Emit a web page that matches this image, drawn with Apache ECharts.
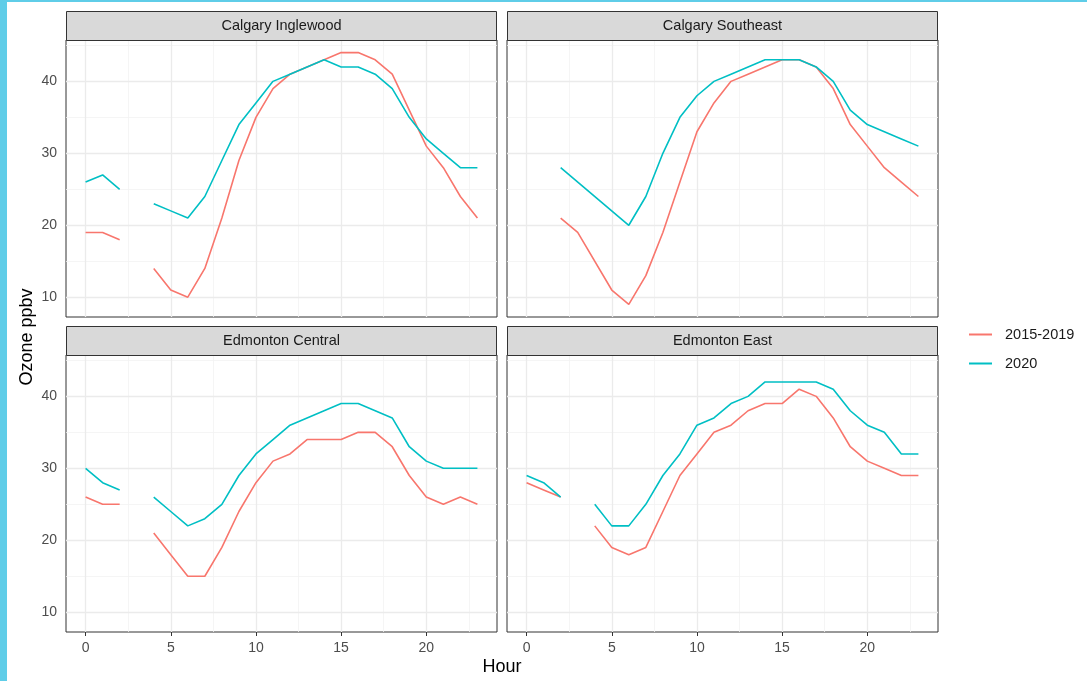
<!DOCTYPE html>
<html>
<head>
<meta charset="utf-8">
<script src="https://cdn.jsdelivr.net/npm/echarts@6/dist/echarts.min.js"></script>
<style>
html,body{margin:0;padding:0;background:#fff;}
#chart{width:1087px;height:681px;}
</style>
</head>
<body>
<div id="chart"></div>
<script>
// ---------- DATA ----------
const panelTitles = ['Calgary Inglewood', 'Calgary Southeast', 'Edmonton Central', 'Edmonton East'];
const seriesNames = ['2015-2019', '2020'];
const xTicks = [0, 5, 10, 15, 20];
const yTicks = [10, 20, 30, 40];
const allHours = [0,1,2,3,4,5,6,7,8,9,10,11,12,13,14,15,16,17,18,19,20,21,22,23];

// Calgary Inglewood
const inglewoodHours = allHours;
const inglewood2015 = [19,19,18,null,14,11,10,14,21,29,35,39,41,42,43,44,44,43,41,36,31,28,24,21];
const inglewood2020 = [26,27,25,null,23,22,21,24,29,34,37,40,41,42,43,42,42,41,39,35,32,30,28,28];

// Calgary Southeast
const southeastHours2015 = [2,3,5,6,7,8,9,10,11,12,13,14,15,16,17,18,19,20,21,22,23];
const southeast2015 = [21,19,11,9,13,19,26,33,37,40,41,42,43,43,42,39,34,31,28,26,24];
const southeastHours2020 = [2,6,7,8,9,10,11,12,13,14,15,16,17,18,19,20,21,22,23];
const southeast2020 = [28,20,24,30,35,38,40,41,42,43,43,43,42,40,36,34,33,32,31];

// Edmonton Central
const centralHours = allHours;
const central2015 = [26,25,25,null,21,18,15,15,19,24,28,31,32,34,34,34,35,35,33,29,26,25,26,25];
const central2020 = [30,28,27,null,26,24,22,23,25,29,32,34,36,37,38,39,39,38,37,33,31,30,30,30];

// Edmonton East
const eastHours = allHours;
const east2015 = [28,27,26,null,22,19,18,19,24,29,32,35,36,38,39,39,41,40,37,33,31,30,29,29];
const east2020 = [29,28,26,null,25,22,22,25,29,32,36,37,39,40,42,42,42,42,41,38,36,35,32,32];

// ---------- BUILD ----------
const FONT = "'Liberation Sans', Arial, sans-serif";
const COLORS = ['#F8766D', '#00BFC4'];
const panels = [
  {left: 66,  top: 40,  s: [[inglewoodHours, inglewood2015], [inglewoodHours, inglewood2020]]},
  {left: 507, top: 40,  s: [[southeastHours2015, southeast2015], [southeastHours2020, southeast2020]]},
  {left: 66,  top: 355, s: [[centralHours, central2015], [centralHours, central2020]]},
  {left: 507, top: 355, s: [[eastHours, east2015], [eastHours, east2020]]}
];
const PW = 431, PH = 277;
const XMIN = -1.15, XMAX = 24.15, YMIN = 7.25, YMAX = 45.75;

const grids = [], xAxes = [], yAxes = [], series = [], graphics = [];

function pairs(h, v) {
  return h.map((x, i) => [x, v[i] === null ? '-' : v[i]]);
}

const majX = xTicks, minX = [2.5, 7.5, 12.5, 17.5, 22.5];
const majY = yTicks, minY = [15, 25, 35, 45];

panels.forEach((p, i) => {
  const isLeft = (i % 2 === 0), isBottom = (i >= 2);
  grids.push({left: p.left, top: p.top, width: PW, height: PH, show: true,
    backgroundColor: '#fff', borderColor: '#333333', borderWidth: 1, containLabel: false});
  xAxes.push({type: 'value', gridIndex: i, min: XMIN, max: XMAX,
    axisLine: {show: false}, splitLine: {show: false},
    axisTick: {show: isBottom, length: 4, lineStyle: {color: '#333333'}, customValues: xTicks},
    axisLabel: {show: isBottom, customValues: xTicks, margin: 9, color: '#4D4D4D', fontSize: 14, fontFamily: FONT}
  });
  yAxes.push({type: 'value', gridIndex: i, min: YMIN, max: YMAX,
    axisLine: {show: false}, splitLine: {show: false},
    axisTick: {show: isLeft, length: 4, lineStyle: {color: '#333333'}, customValues: yTicks},
    axisLabel: {show: isLeft, customValues: yTicks, margin: 9, color: '#4D4D4D', fontSize: 14, fontFamily: FONT}
  });
  // grid lines via markLine on a helper series
  const ml = [];
  minX.forEach(v => ml.push({xAxis: v, lineStyle: {color: '#F2F2F2', width: 0.8, type: 'solid'}}));
  minY.forEach(v => ml.push({yAxis: v, lineStyle: {color: '#F2F2F2', width: 0.8, type: 'solid'}}));
  majX.forEach(v => ml.push({xAxis: v, lineStyle: {color: '#EBEBEB', width: 1.3, type: 'solid'}}));
  majY.forEach(v => ml.push({yAxis: v, lineStyle: {color: '#EBEBEB', width: 1.3, type: 'solid'}}));
  series.push({type: 'line', xAxisIndex: i, yAxisIndex: i, data: [], z: 1, silent: true,
    markLine: {silent: true, symbol: ['none', 'none'], label: {show: false}, animation: false, z: 1, data: ml}});
  p.s.forEach((sd, k) => {
    series.push({name: seriesNames[k], type: 'line', xAxisIndex: i, yAxisIndex: i, z: 3,
      data: pairs(sd[0], sd[1]), showSymbol: false, symbol: 'none', connectNulls: false,
      lineStyle: {color: COLORS[k], width: 1.6}, itemStyle: {color: COLORS[k]}, animation: false});
  });
  // strip
  const sy = isBottom ? 326 : 11;
  graphics.push({type: 'rect', shape: {x: p.left + 0.5, y: sy + 0.5, width: PW - 1, height: 29},
    style: {fill: '#D9D9D9', stroke: '#333333', lineWidth: 1}, z: 10});
  graphics.push({type: 'text', x: p.left + PW / 2, y: sy + 15,
    style: {text: panelTitles[i], fill: '#1A1A1A', font: '14.5px ' + FONT, textAlign: 'center', textVerticalAlign: 'middle'}, z: 11});
});

// page decoration
graphics.push({type: 'rect', shape: {x: 0, y: 0, width: 7, height: 681}, style: {fill: '#5FCDE8'}, z: 20});
graphics.push({type: 'rect', shape: {x: 0, y: 0, width: 1087, height: 2}, style: {fill: '#5FCDE8'}, z: 20});
// axis titles
graphics.push({type: 'text', x: 502, y: 667,
  style: {text: 'Hour', fill: '#000', font: '18px ' + FONT, textAlign: 'center', textVerticalAlign: 'middle'}, z: 11});
graphics.push({type: 'text', x: 27, y: 337, rotation: Math.PI / 2,
  style: {text: 'Ozone ppbv', fill: '#000', font: '18px ' + FONT, textAlign: 'center', textVerticalAlign: 'middle'}, z: 11});

const chart = echarts.init(document.getElementById('chart'), null, {renderer: 'canvas'});
chart.setOption({
  animation: false,
  backgroundColor: '#ffffff',
  grid: grids, xAxis: xAxes, yAxis: yAxes, series: series, graphic: graphics,
  legend: {orient: 'vertical', left: 969, top: 327, padding: 0, icon: 'rect',
    itemWidth: 23, itemHeight: 2, itemGap: 14, data: seriesNames,
    textStyle: {fontSize: 14.5, color: '#1A1A1A', fontFamily: FONT, padding: [0, 0, 0, 8]}}
});
</script>
</body>
</html>
